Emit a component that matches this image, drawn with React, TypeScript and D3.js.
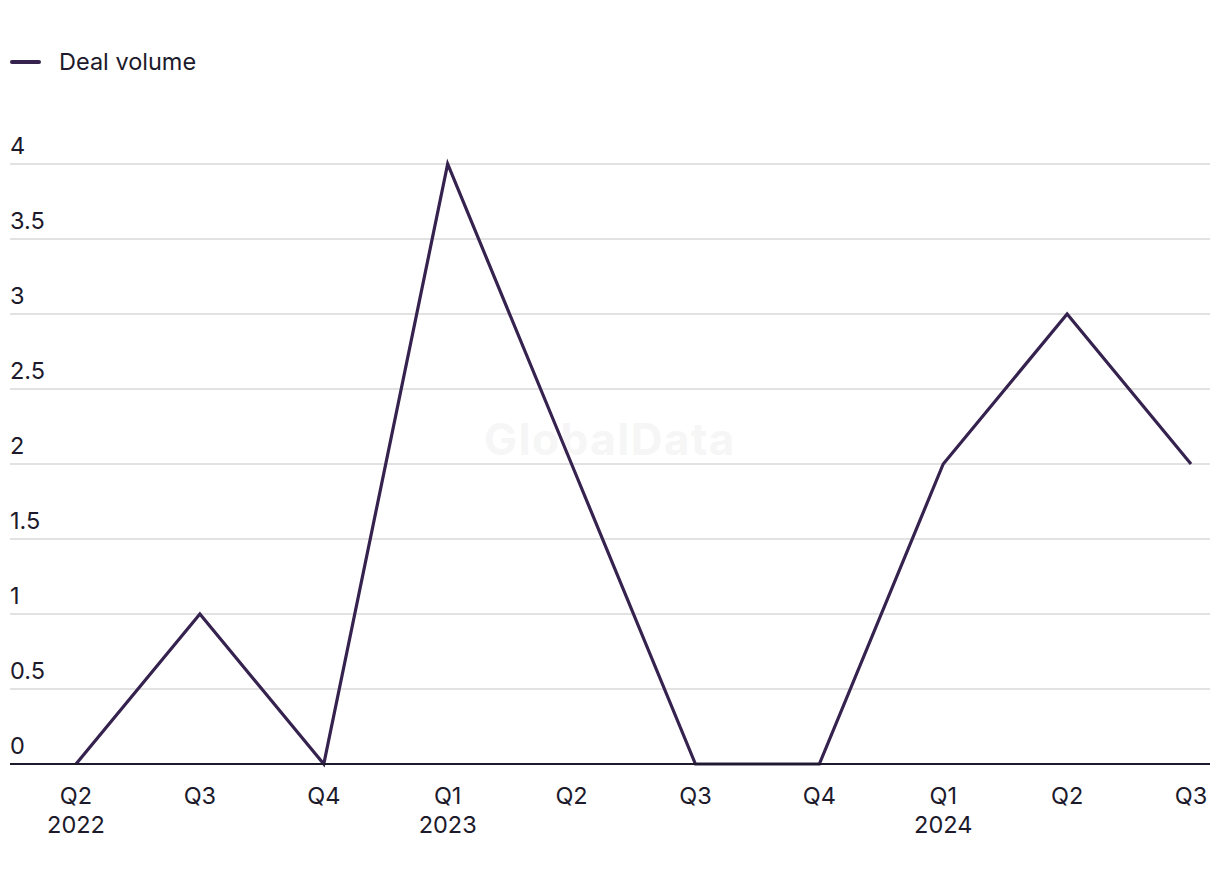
import React from "react";
import * as d3 from "d3";

const quarters = ["Q2", "Q3", "Q4", "Q1", "Q2", "Q3", "Q4", "Q1", "Q2", "Q3"];
const years = ["2022", "", "", "2023", "", "", "", "2024", "", ""];
const dealVolume = [0, 1, 0, 4, 2, 0, 0, 2, 3, 2];
const yTicks = [0, 0.5, 1, 1.5, 2, 2.5, 3, 3.5, 4];
const seriesName = "Deal volume";

const W = 1220;
const H = 884;
const FONT = "Inter, 'Liberation Sans', Arial, sans-serif";
const LINE = "#35224f";
const TEXT = "#1c1a2b";
const FS = 23.5;

export default function App() {
  const idx = quarters.map((_, i) => i);
  const x = d3.scalePoint<number>().domain(idx).range([76, 1191]);
  const y = d3.scaleLinear().domain([0, 4]).range([764, 164]);
  const line = d3
    .line<number>()
    .x((_, i) => x(i) as number)
    .y((d) => y(d));

  return (
    <svg
      width={W}
      height={H}
      style={{ position: "absolute", left: 0, top: 0, fontFamily: FONT }}
    >
      <rect width={W} height={H} fill="#fff" />
      {/* legend */}
      <line x1={12} x2={39} y1={62} y2={62} stroke={LINE} strokeWidth={4} strokeLinecap="round" />
      <text x={59} y={70} fontSize={FS} fill={TEXT}>{seriesName}</text>

      {/* watermark */}
      <text x={610} y={455} textAnchor="middle" fontSize={44} fontWeight={700} letterSpacing={1.5} fill="#f6f6f6">
        GlobalData
      </text>

      {/* gridlines and y labels */}
      {yTicks.map((t) => (
        <g key={t}>
          {t !== 0 && (
            <line x1={10} x2={1210} y1={y(t)} y2={y(t)} stroke="#d9d9d9" strokeWidth={1.5} />
          )}
          <text x={10} y={y(t) - 10} fontSize={FS} fill={TEXT}>{t}</text>
        </g>
      ))}

      {/* data line */}
      <path d={line(dealVolume) || ""} fill="none" stroke={LINE} strokeWidth={3.2} strokeLinejoin="miter" />

      {/* x axis */}
      <line x1={10} x2={1210} y1={y(0)} y2={y(0)} stroke="#1c1a2b" strokeWidth={2} />
      {quarters.map((q, i) => (
        <g key={i}>
          <text x={x(i)} y={804} textAnchor="middle" fontSize={FS} fill={TEXT}>{q}</text>
          {years[i] && (
            <text x={x(i)} y={833} textAnchor="middle" fontSize={FS} fill={TEXT}>{years[i]}</text>
          )}
        </g>
      ))}
    </svg>
  );
}
